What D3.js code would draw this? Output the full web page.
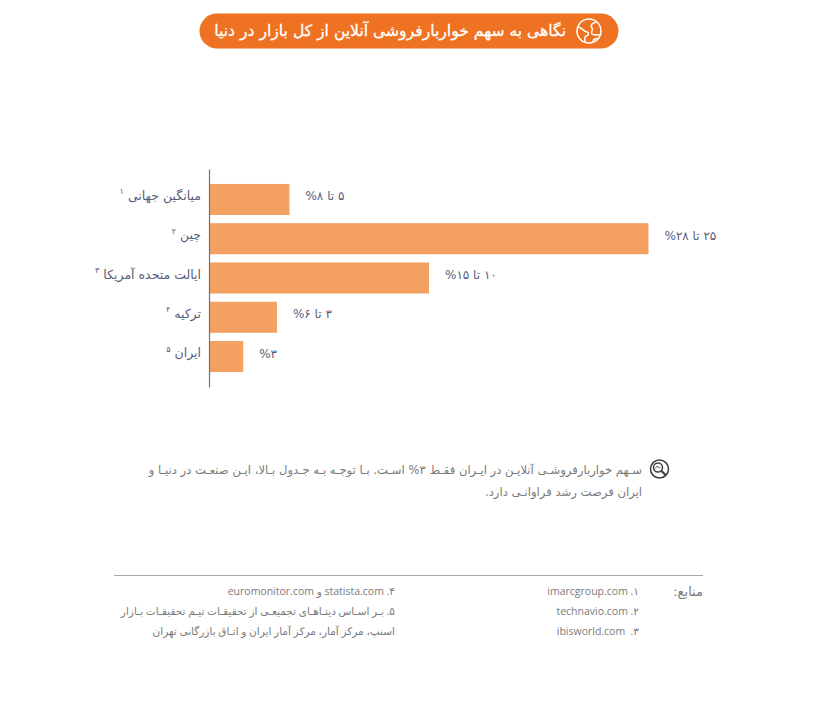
<!DOCTYPE html>
<html lang="fa">
<head>
<meta charset="utf-8">
<script src="https://cdn.jsdelivr.net/npm/d3@7"></script>
<style>
body { margin: 0; background: #fff; }
text { font-family: "DejaVu Sans", sans-serif; }
.src { font-family: "Open Sans", "DejaVu Sans", sans-serif; }
</style>
</head>
<body>
<script>
var titleText = "نگاهی به سهم خواربارفروشی آنلاین از کل بازار در دنیا";
var categories = ["میانگین جهانی", "چین", "ایالت متحده آمریکا", "ترکیه", "ایران"];
var footnoteMarks = ["۱", "۲", "۳", "۴", "۵"];
var barValues = [5.1, 28, 14, 4.3, 2.15];
var rangeLabels = ["۵ تا ۸%", "۲۵ تا ۲۸%", "۱۰ تا ۱۵%", "۳ تا ۶%", "%۳"];
var noteLines = [
    "سـهم خواربارفروشـی آنلایـن در ایـران فقـط ۳% اسـت. بـا توجـه بـه جـدول بـالا، ایـن صنعـت در دنیـا و",
    "ایران فرصت رشد فراوانـی دارد."
];
var sourcesTitle = "منابع:";
var sourcesRight = ["imarcgroup.com .۱", "technavio.com .۲", "ibisworld.com \u00a0.۳"];
var sourcesLeft = [
    "euromonitor.com و statista.com .۴",
    "۵. بـر اسـاس دیتـاهـای تجمیعـی از تحقیقـات تیـم تحقیقـات بـازار",
    "اسنپ، مرکز آمار، مرکز آمار ایران و اتـاق بازرگانی تهران"
];

var width = 829,
    height = 713;

var orange = "#ee7222",
    barColor = "#f4a060",
    labelColor = "#565d7c",
    greyText = "#7a7a7a";

var svg = d3.select("body").append("svg")
    .attr("width", width)
    .attr("height", height)
    .style("display", "block");

// title pill
svg.append("rect")
    .attr("x", 199.5)
    .attr("y", 13.5)
    .attr("width", 419)
    .attr("height", 35)
    .attr("rx", 17.5)
    .attr("fill", orange);

svg.append("text")
    .attr("x", 566)
    .attr("y", 36)
    .attr("direction", "rtl")
    .attr("font-size", 15.6)
    .attr("fill", "#fff")
    .attr("stroke", "#fff")
    .attr("stroke-width", 0.3)
    .text(titleText);

// globe icon
var globe = svg.append("g")
    .attr("transform", "translate(589,31)")
    .attr("fill", "none")
    .attr("stroke", "#fff")
    .attr("stroke-width", 1.5);
globe.append("circle").attr("r", 12);
globe.append("path").attr("d", "M-11,-4 C-6,-3 -5,1 -2,1 C1,2 -1,5 -3,5 C-5,6 -4,10 -4,11");
globe.append("path").attr("d", "M8,-9 C3,-8 1,-6 3,-3 C5,-1 1,0 3,3 C6,5 10,3 11,4");
globe.append("path").attr("d", "M4,11 C4,8 7,7 9,8");

// bars
var x = d3.scaleLinear()
    .domain([0, 28])
    .range([209.5, 648.5]);

var y = d3.scaleBand()
    .domain(categories)
    .range([169, 387])
    .paddingInner(0.21)
    .paddingOuter(0.38);

svg.selectAll(".bar")
    .data(categories)
    .enter().append("rect")
    .attr("class", "bar")
    .attr("x", x(0))
    .attr("y", function(d) {
        return y(d);
    })
    .attr("width", function(d, i) {
        return x(barValues[i]) - x(0);
    })
    .attr("height", y.bandwidth())
    .attr("fill", barColor);

var axis = svg.append("g")
    .attr("transform", "translate(" + (x(0) - 0.5) + ",0)")
    .call(d3.axisLeft(y).tickSize(0).tickPadding(8).tickSizeOuter(0));

axis.select(".domain")
    .attr("stroke", "#6f6f74")
    .attr("stroke-width", 1.2);

axis.selectAll(".tick text")
    .attr("direction", "rtl")
    .attr("text-anchor", "start")
    .attr("font-family", "DejaVu Sans")
    .attr("font-size", 12.5)
    .attr("dy", "0.05em")
    .attr("fill", labelColor);

// footnote marks sit just left of each category label
axis.selectAll(".tick").each(function(d, i) {
    var tick = d3.select(this);
    var w = tick.select("text").node().getComputedTextLength();
    tick.append("text")
        .attr("x", -8 - w - 4)
        .attr("y", -5)
        .attr("text-anchor", "end")
        .attr("font-size", 8)
        .attr("fill", labelColor)
        .text(footnoteMarks[i]);
});

// value labels
svg.selectAll(".value")
    .data(rangeLabels)
    .enter().append("text")
    .attr("class", "value")
    .attr("x", function(d, i) {
        return x(barValues[i]) + 16;
    })
    .attr("y", function(d, i) {
        return y(categories[i]) + y.bandwidth() / 2;
    })
    .attr("dy", "0.08em")
    .attr("direction", "rtl")
    .attr("text-anchor", "end")
    .attr("font-size", 12)
    .attr("fill", labelColor)
    .text(function(d) {
        return d;
    });

// magnifier icon
var lens = svg.append("g")
    .attr("transform", "translate(659.5,469)")
    .attr("fill", "none")
    .attr("stroke", "#3c3c44");
lens.append("circle").attr("r", 9).attr("stroke-width", 1.5);
lens.append("circle").attr("cx", -1.5).attr("cy", -1.5).attr("r", 4.5).attr("stroke-width", 1.5);
lens.append("path").attr("d", "M-4,-0.5 L-2.5,-3 L0,-1 L1,-2").attr("stroke-width", 0.8);
lens.append("line")
    .attr("x1", 2).attr("y1", 2).attr("x2", 6).attr("y2", 6)
    .attr("stroke-width", 2.2);

// note
svg.selectAll(".note")
    .data(noteLines)
    .enter().append("text")
    .attr("class", "note")
    .attr("x", 642)
    .attr("y", function(d, i) {
        return 474 + i * 22;
    })
    .attr("direction", "rtl")
    .attr("font-size", 11.6)
    .attr("fill", greyText)
    .text(function(d) {
        return d;
    });

// sources
svg.append("line")
    .attr("x1", 114)
    .attr("x2", 703)
    .attr("y1", 575.5)
    .attr("y2", 575.5)
    .attr("stroke", "#a8a8a8");

svg.append("text")
    .attr("x", 703)
    .attr("y", 596)
    .attr("direction", "rtl")
    .attr("font-size", 13)
    .attr("fill", greyText)
    .text(sourcesTitle);

svg.selectAll(".srcRight")
    .data(sourcesRight)
    .enter().append("text")
    .attr("class", "srcRight src")
    .attr("x", 639)
    .attr("y", function(d, i) {
        return 595 + i * 20;
    })
    .attr("text-anchor", "end")
    .attr("font-size", 10.5)
    .attr("fill", greyText)
    .text(function(d) {
        return d;
    });

svg.selectAll(".srcLeft")
    .data(sourcesLeft)
    .enter().append("text")
    .attr("class", "srcLeft src")
    .attr("x", 395)
    .attr("y", function(d, i) {
        return 595 + i * 20;
    })
    .attr("direction", function(d, i) {
        return i === 0 ? "ltr" : "rtl";
    })
    .attr("text-anchor", function(d, i) {
        return i === 0 ? "end" : "start";
    })
    .attr("font-size", 10.5)
    .attr("fill", greyText)
    .text(function(d) {
        return d;
    });
</script>
</body>
</html>
